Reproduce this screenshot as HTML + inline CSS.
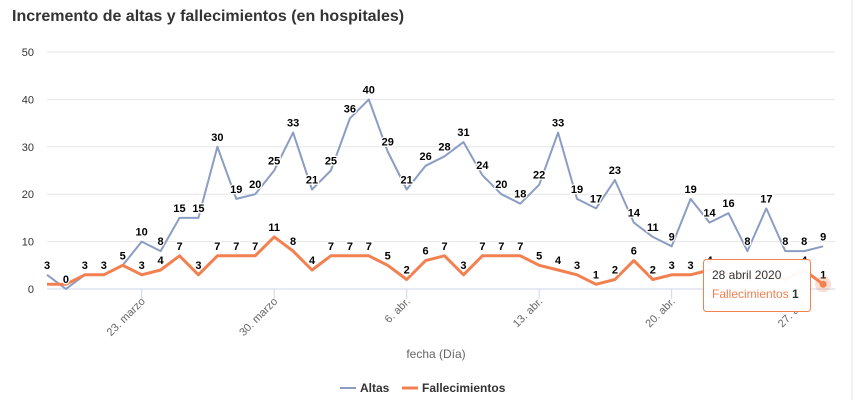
<!DOCTYPE html>
<html><head><meta charset="utf-8"><style>
body{margin:0;background:#fff;width:864px;height:400px;overflow:hidden;font-family:"Liberation Sans",sans-serif}
</style></head><body>
<svg id="s" width="864" height="400" xmlns="http://www.w3.org/2000/svg" font-family="Liberation Sans, sans-serif">
<line x1="852" y1="0" x2="852" y2="400" stroke="#e6e6e6"/>
<text x="12" y="21" font-size="16" font-weight="bold" fill="#333">Incremento de altas y fallecimientos (en hospitales)</text>
<g id="g"></g>
<text x="436" y="358" font-size="12" fill="#666" text-anchor="middle">fecha (Día)</text>
<line x1="340" y1="388" x2="356" y2="388" stroke="#8b9dc3" stroke-width="2"/>
<text x="360" y="392" font-size="12" font-weight="bold" fill="#333">Altas</text>
<line x1="402" y1="388" x2="418" y2="388" stroke="#f28050" stroke-width="3"/>
<text x="422" y="392" font-size="12" font-weight="bold" fill="#333">Fallecimientos</text>
</svg>
<script>
var A=[3,0,3,3,5,10,8,15,15,30,19,20,25,33,21,25,36,40,29,21,26,28,31,24,20,18,22,33,19,17,23,14,11,9,19,14,16,8,17,8,8,9];
var F=[1,1,3,3,5,3,4,7,3,7,7,7,11,8,4,7,7,7,5,2,6,7,3,7,7,7,5,4,3,1,2,6,2,3,3,4,3,2,3,2,4,1];
function X(i){return 47+i*18.93}function Y(v){return 289-v*4.74}
var h='';
for(var v=0;v<=50;v+=10){h+='<line x1="47" x2="835" y1="'+Y(v)+'" y2="'+Y(v)+'" stroke="'+(v?'#e6e6e6':'#ccd6eb')+'"/>';
h+='<text x="34" y="'+(Y(v)+4)+'" font-size="11" fill="#333" text-anchor="end">'+v+'</text>';}
var L=[[5,'23. marzo'],[12,'30. marzo'],[19,'6. abr.'],[26,'13. abr.'],[33,'20. abr.'],[40,'27. abr.']];
L.forEach(function(l){var x=X(l[0]);h+='<line x1="'+x+'" x2="'+x+'" y1="289" y2="299" stroke="#ccd6eb"/>';
h+='<text transform="translate('+(x+4)+',302) rotate(-45)" font-size="11" fill="#666" text-anchor="end">'+l[1]+'</text>';});
function line(d,c,w){var p=d.map(function(v,i){return X(i).toFixed(1)+','+Y(v).toFixed(1)}).join(' ');
return '<polyline points="'+p+'" fill="none" stroke="'+c+'" stroke-width="'+w+'" stroke-linejoin="round"/>';}
h+=line(A,'#8b9dc3',2)+line(F,'#f28050',3);
function lab(d,skip){d.forEach(function(v,i){if(skip.indexOf(i)>=0)return;h+='<text x="'+X(i)+'" y="'+(Y(v)-6)+'" font-size="11" font-weight="bold" fill="#000" text-anchor="middle" stroke="#fff" stroke-width="2.5" paint-order="stroke">'+v+'</text>';});}
lab(A,[4]);lab(F,[0,1,36,37,38,39]);
h+='<circle cx="'+X(41)+'" cy="'+Y(1)+'" r="8" fill="#f28050" opacity="0.25"/><circle cx="'+X(41)+'" cy="'+Y(1)+'" r="3.5" fill="#f28050"/>';
h+='<rect x="703.5" y="259.5" width="107" height="52" rx="3" fill="#fff" fill-opacity="0.95" stroke="#f28050"/>';
h+='<text x="712" y="279" font-size="12" fill="#333">28 abril 2020</text>';
h+='<text x="712" y="298" font-size="12" fill="#f28050">Fallecimientos <tspan fill="#333" font-weight="bold">1</tspan></text>';
document.getElementById('g').innerHTML=h;
</script>
</body></html>
